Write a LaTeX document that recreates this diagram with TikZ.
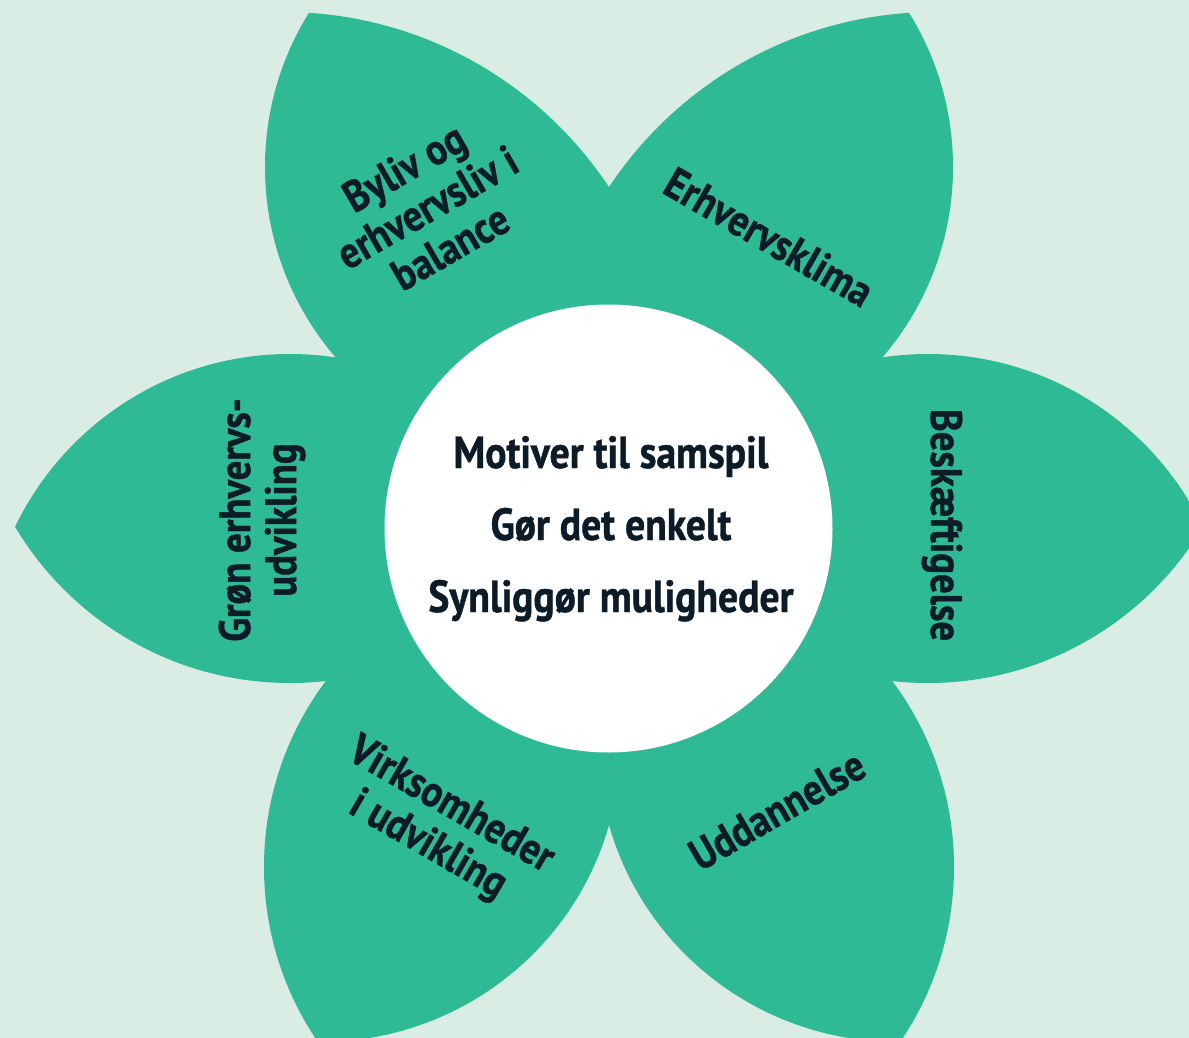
\documentclass[tikz,border=0pt]{standalone}
\usepackage{fontspec}
\setmainfont{PT Sans}[FakeStretch=0.88, BoldFeatures={FakeBold=1}]
\definecolor{bgc}{HTML}{D9EDE4}
\definecolor{petalc}{HTML}{2EBA94}
\definecolor{txtc}{HTML}{0C1B28}
\tikzset{
  petal/.style={fill=petalc, draw=none},
  lbl/.style={text=txtc, font=\fontsize{44}{46}\selectfont\bfseries, align=center, inner sep=0pt},
  midlbl/.style={text=txtc, font=\fontsize{45}{47}\selectfont\bfseries, anchor=base, inner sep=0pt}
}
\begin{document}
\begin{tikzpicture}[x=1pt,y=-1pt]
\useasboundingbox (0,0) rectangle (1189,1038);
\fill[bgc] (0,0) rectangle (1189,1038);
\begin{scope}
\clip (0,0) rectangle (1189,1038);
% upper-left petal
\begin{scope}
  \clip (557,167) circle [radius=292];
  \fill[petal] (283,403) circle [radius=391];
\end{scope}
% upper-right petal
\begin{scope}
  \clip (661,167) circle [radius=292];
  \fill[petal] (935,403) circle [radius=391];
\end{scope}
% left petal
\begin{scope}
  \clip (290,659) circle [radius=305];
  \fill[petal] (290,363) circle [radius=320];
\end{scope}
% right petal
\begin{scope}
  \clip (928,659) circle [radius=305];
  \fill[petal] (928,363) circle [radius=320];
\end{scope}
% lower-left petal
\begin{scope}
  \clip (575,867) circle [radius=311];
  \fill[petal] (320,745) ellipse [x radius=300, y radius=297];
\end{scope}
% lower-right petal
\begin{scope}
  \clip (643,867) circle [radius=311];
  \fill[petal] (898,745) ellipse [x radius=300, y radius=297];
\end{scope}
\end{scope}
\fill[white] (608.5,528.5) circle [radius=224];
\node[midlbl] (m1) at (611,468) {Motiver til samspil};
\node[midlbl] (m2) at (611,540) {Gør det enkelt};
\node[midlbl] (m3) at (611,612) {Synliggør muligheder};
\node[lbl, rotate=30] (byliv) at (427,207) {Byliv og\\erhvervsliv i\\balance};
\node[lbl, rotate=-30] (erhv) at (769,237) {Erhvervsklima};
\node[lbl, rotate=-90] (besk) at (942,525) {Beskæftigelse};
\node[lbl, rotate=30] (udd) at (777,810) {Uddannelse};
\node[lbl, rotate=-30] (virk) at (439,826) {Virksomheder\\i udvikling};
\node[lbl, rotate=90] (gron) at (262,520) {Grøn erhvervs-\\udvikling};
\end{tikzpicture}
\end{document}
